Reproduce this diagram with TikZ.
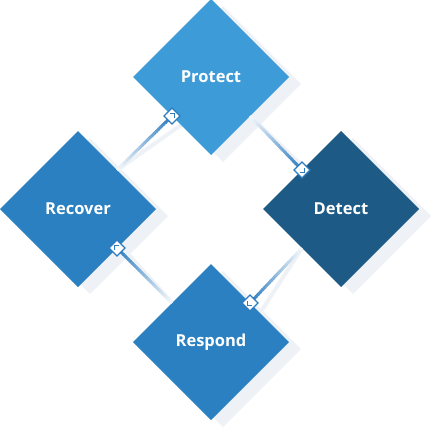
\documentclass[tikz,border=0pt]{standalone}
\usepackage{fontspec}
\setmainfont{Open Sans}
\usetikzlibrary{shapes.geometric,calc}
\definecolor{protectblue}{HTML}{3D9BD7}
\definecolor{midblue}{HTML}{2A80C0}
\definecolor{darkblue}{HTML}{1D5A85}
\definecolor{shadowgray}{HTML}{EEF1F6}
\definecolor{linkblue}{HTML}{2E7CC0}
\pgfdeclarelayer{back}
\pgfsetlayers{back,main}
\newcommand\link[2]{%
  \foreach \k in {0,...,23}{
    \pgfmathsetmacro\mixval{int(6+94*\k/23)}
    \draw[line width=3pt, linkblue!\mixval!white] ($(#1)!{\k/24}!(#2)$) -- ($(#1)!{min(1,(\k+1.3)/24)}!(#2)$);
  }}
\newcommand\tagmark[4]{%
  \node[tag] (#1) at (#2) {};
  \draw[linkblue, line width=1.4pt, shift={(#1.center)}, xscale=#3, yscale=#4] (-2.4,-2.4) -- (2.4,-2.4) -- (2.4,2.4);}

\begin{document}
\begin{tikzpicture}[x=1pt,y=-1pt,
phase/.style = {diamond, minimum size=156pt, inner sep=0pt, outer sep=0pt,
  text=white, font=\fontsize{16.5}{18}\selectfont\bfseries},
ghost/.style = {diamond, minimum size=156pt, inner sep=0pt, outer sep=0pt, fill=shadowgray},
tag/.style = {diamond, minimum size=16pt, inner sep=0pt, outer sep=0pt,
  fill=white, draw=linkblue, line width=1.2pt}]
\useasboundingbox (0,0) rectangle (435,428);
\node[phase, fill=protectblue] (protect) at (211,77) {Protect};
\node[phase, fill=darkblue] (detect) at (341,209) {Detect};
\node[phase, fill=midblue] (respond) at (211,342) {Respond};
\node[phase, fill=midblue] (recover) at (78,209) {Recover};
\begin{pgfonlayer}{back}
\node[ghost] (protect-sh) at (223,84) {};
\node[ghost] (detect-sh) at (353,216) {};
\node[ghost] (respond-sh) at (223,349) {};
\node[ghost] (recover-sh) at (90,216) {};
\draw[shadowgray, line width=4pt] (recover.north east) -- (protect-sh.south west);
\draw[shadowgray, line width=4pt] (protect.south east) -- (detect-sh.north west);
\draw[shadowgray, line width=4pt] (detect.south west) -- (respond-sh.north east);
\draw[shadowgray, line width=4pt] (respond.north west) -- (recover-sh.south east);
\end{pgfonlayer}
\link{recover.north east}{protect.south west}
\link{protect.south east}{detect.north west}
\link{detect.south west}{respond.north east}
\link{respond.north west}{recover.south east}
\tagmark{protect-in}{protect.south west}{1}{1}
\tagmark{detect-in}{detect.north west}{1}{-1}
\tagmark{respond-in}{respond.north east}{-1}{-1}
\tagmark{recover-in}{recover.south east}{-1}{1}
\end{tikzpicture}
\end{document}
